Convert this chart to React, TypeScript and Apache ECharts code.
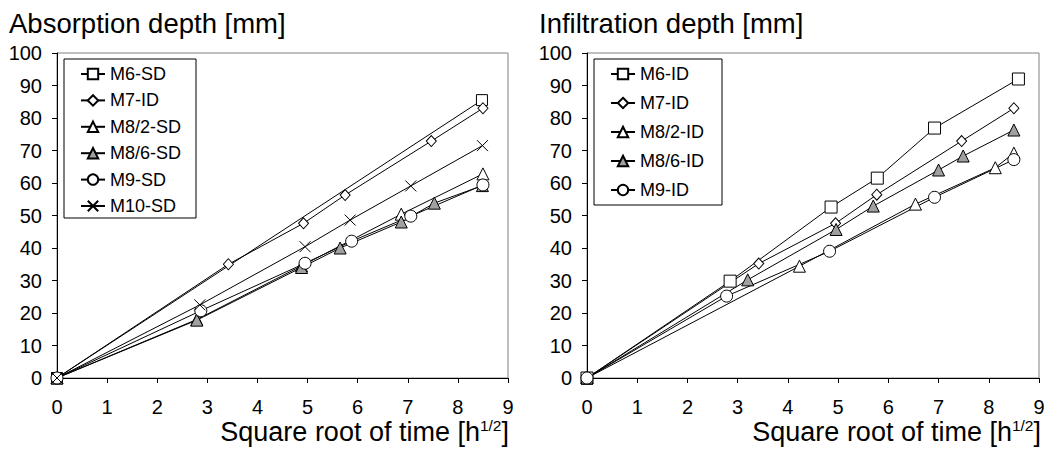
import { useEffect, useRef } from 'react';
import * as echarts from 'echarts';

const FONT = '"Liberation Sans", Arial, Helvetica, sans-serif';

// ---- Left panel: absorption depth ----
const leftNames = ['M6-SD', 'M7-ID', 'M8/2-SD', 'M8/6-SD', 'M9-SD', 'M10-SD'];
const m6sdX = [0, 8.48];
const m6sdY = [0, 85.5];
const m7sdX = [0, 3.42, 4.92, 5.75, 7.47, 8.5];
const m7sdY = [0, 35, 47.6, 56.3, 72.9, 83];
const m82sdX = [0, 2.79, 4.88, 6.87, 8.5];
const m82sdY = [0, 18, 34.5, 50.4, 62.8];
const m86sdX = [0, 2.79, 4.88, 5.65, 6.87, 7.53, 8.49];
const m86sdY = [0, 17.8, 34, 40, 48, 53.8, 59.2];
const m9sdX = [0, 2.87, 4.95, 5.88, 7.06, 8.5];
const m9sdY = [0, 20.7, 35.3, 42.1, 49.8, 59.4];
const m10sdX = [0, 2.85, 4.95, 5.85, 7.06, 8.49];
const m10sdY = [0, 22.5, 40.4, 48.6, 59.1, 71.5];

// ---- Right panel: infiltration depth ----
const rightNames = ['M6-ID', 'M7-ID ', 'M8/2-ID', 'M8/6-ID', 'M9-ID'];
const m6idX = [0, 2.85, 4.86, 5.78, 6.92, 8.59];
const m6idY = [0, 29.8, 52.6, 61.5, 76.9, 92];
const m7idX = [0, 3.42, 4.95, 5.77, 7.46, 8.5];
const m7idY = [0, 35.2, 47.6, 56.4, 72.9, 83];
const m82idX = [0, 4.23, 6.54, 8.13, 8.5];
const m82idY = [0, 34.4, 53.5, 64.7, 69.2];
const m86idX = [0, 3.2, 4.96, 5.7, 7.0, 7.49, 8.5];
const m86idY = [0, 30.2, 45.7, 52.9, 64, 68.3, 76.3];
const m9idX = [0, 2.78, 4.83, 6.92, 8.5];
const m9idY = [0, 25.2, 39, 55.6, 67.2];

const xTickMax = 9;
const yTickMax = 100;

const CROSS = 'path://M0,0L10,10M10,0L0,10';

function mk(name: string, xs: number[], ys: number[], symbol: string, size: any, fill: string, idx: number) {
  return {
    type: 'line',
    name,
    xAxisIndex: idx,
    yAxisIndex: idx,
    data: xs.map((x, i) => [x, ys[i]]),
    symbol,
    symbolSize: size,
    showAllSymbol: true,
    clip: false,
    lineStyle: { color: '#000', width: 1 },
    itemStyle: { color: fill, borderColor: '#000', borderWidth: 1 },
    emphasis: { disabled: true },
  };
}

function axisX(idx: number) {
  return {
    gridIndex: idx,
    type: 'value',
    min: 0,
    max: xTickMax,
    interval: 1,
    axisLine: { show: true, lineStyle: { color: '#000', width: 1 } },
    axisTick: { show: true, inside: false, length: 5, lineStyle: { color: '#000' } },
    axisLabel: { fontSize: 20, color: '#000', fontFamily: FONT, margin: 19 },
    splitLine: { show: false },
  };
}
function axisY(idx: number) {
  return {
    gridIndex: idx,
    type: 'value',
    min: 0,
    max: yTickMax,
    interval: 10,
    axisLine: { show: true, lineStyle: { color: '#000', width: 1 } },
    axisTick: { show: true, inside: false, length: 5, lineStyle: { color: '#000' } },
    axisLabel: { fontSize: 20, color: '#000', fontFamily: FONT, margin: 15 },
    splitLine: { show: false },
  };
}

const legendBase = {
  orient: 'vertical',
  backgroundColor: '#fff',
  borderColor: '#000',
  borderWidth: 1,
  itemWidth: 24,
  itemHeight: 13,
  selectedMode: false,
  textStyle: { fontSize: 18, color: '#000', fontFamily: FONT },
};

const titleStyle = { fontSize: 27.5, fontWeight: 'normal', color: '#000', fontFamily: FONT };
const axisNameRich = {
  a: { fontSize: 27, fontWeight: 'normal', color: '#000', fontFamily: FONT, lineHeight: 30 },
  s: { fontSize: 15.5, fontWeight: 'normal', color: '#000', fontFamily: FONT, verticalAlign: 'top', lineHeight: 15 },
};

export default function App() {
  const ref = useRef<HTMLDivElement>(null);
  useEffect(() => {
    if (!ref.current) return;
    const chart = echarts.init(ref.current, undefined, { renderer: 'svg' });
    chart.setOption({
      animation: false,
      backgroundColor: '#fff',
      title: [
        { text: 'Absorption depth [mm]', left: 9, top: 9, padding: 0, textStyle: titleStyle },
        { text: 'Infiltration depth [mm]', left: 539, top: 9, padding: 0, textStyle: titleStyle },
        { text: '{a|Square root of time [h}{s|1/2}{a|]}', right: 549, top: 417, padding: 0, textStyle: { fontWeight: 'normal', rich: axisNameRich } },
        { text: '{a|Square root of time [h}{s|1/2}{a|]}', right: 17, top: 417, padding: 0, textStyle: { fontWeight: 'normal', rich: axisNameRich } },
      ],
      grid: [
        { left: 57, top: 53, width: 451, height: 325, show: true, borderColor: '#808080', borderWidth: 1, backgroundColor: 'transparent' },
        { left: 587, top: 53, width: 452, height: 325, show: true, borderColor: '#808080', borderWidth: 1, backgroundColor: 'transparent' },
      ],
      xAxis: [axisX(0), axisX(1)],
      yAxis: [axisY(0), axisY(1)],
      legend: [
        { ...legendBase, data: leftNames, left: 64, top: 59, padding: [6, 15, 3, 16], itemGap: 8.4 },
        { ...legendBase, data: rightNames, left: 594, top: 59, padding: [6, 18, 6, 16], itemGap: 11 },
      ],
      series: [
        mk(leftNames[0], m6sdX, m6sdY, 'rect', 11, '#fff', 0),
        mk(leftNames[1], m7sdX, m7sdY, 'diamond', [10, 11], '#fff', 0),
        mk(leftNames[2], m82sdX, m82sdY, 'triangle', 12, '#fff', 0),
        mk(leftNames[3], m86sdX, m86sdY, 'triangle', 12, '#a0a0a0', 0),
        mk(leftNames[4], m9sdX, m9sdY, 'circle', 12, '#fff', 0),
        mk(leftNames[5], m10sdX, m10sdY, CROSS, 11, '#fff', 0),
        mk(rightNames[0], m6idX, m6idY, 'rect', 12, '#fff', 1),
        mk(rightNames[1], m7idX, m7idY, 'diamond', [10, 11], '#fff', 1),
        mk(rightNames[2], m82idX, m82idY, 'triangle', 12, '#fff', 1),
        mk(rightNames[3], m86idX, m86idY, 'triangle', 12, '#a0a0a0', 1),
        mk(rightNames[4], m9idX, m9idY, 'circle', 12, '#fff', 1),
      ],
    });
    return () => chart.dispose();
  }, []);
  return (
    <div
      ref={ref}
      style={{ position: 'absolute', left: 0, top: 0, width: 1058, height: 456, background: '#fff' }}
    />
  );
}
